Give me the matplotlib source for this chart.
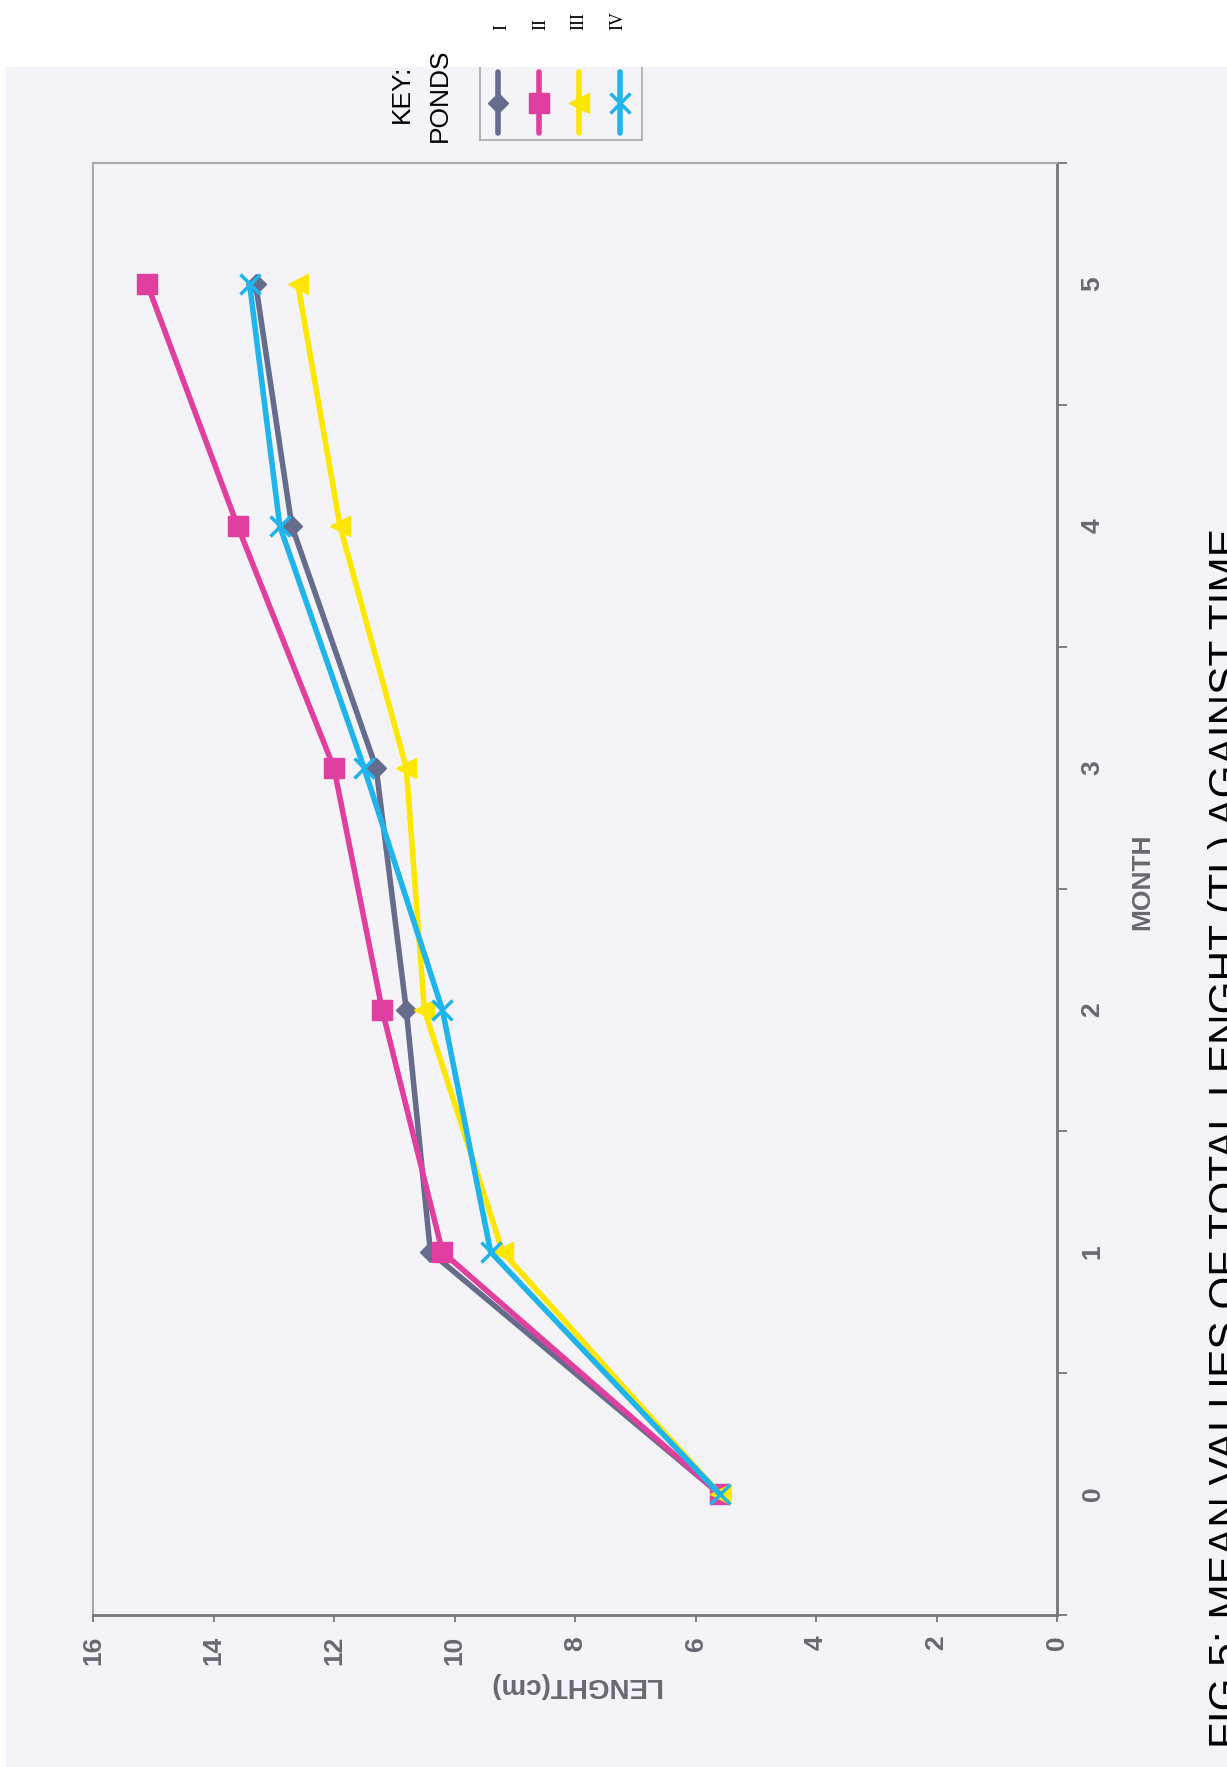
import matplotlib
matplotlib.use("Agg")  # non-interactive backend
import matplotlib.pyplot as plt
from matplotlib.patches import Rectangle
from matplotlib.ticker import FixedLocator, MultipleLocator

plt.rcParams.update({
    "font.family": ["Liberation Sans", "DejaVu Sans"],
    "font.size": 16,
})

# Mean total length (cm) per pond, months 0-5
months = [0, 1, 2, 3, 4, 5]
ponds = ["I", "II", "III", "IV"]
pond_i = [5.6, 10.4, 10.8, 11.3, 12.7, 13.3]
pond_ii = [5.6, 10.2, 11.2, 12.0, 13.6, 15.1]
pond_iii = [5.6, 9.2, 10.5, 10.8, 11.9, 12.6]
pond_iv = [5.6, 9.4, 10.2, 11.5, 12.9, 13.4]

series = [pond_i, pond_ii, pond_iii, pond_iv]
colors = ["#666c8b", "#e03fa0", "#fde600", "#1fb4ec"]
markers = ["D", "s", "<", "x"]
marker_sizes = [10, 14, 14, 15]

PAPER = "#f4f3f7"
AXIS_GREY = "#76747c"
FRAME_GREY = "#a9a8ae"
LABEL_GREY = "#6a6672"

W, H = 1227, 1767


def fx(px):
    return px / W


def fy(py):
    return 1 - py / H


def marker_kw(m, c, ms):
    return dict(marker=m, ms=ms, mfc=c, mec=c, mew=2.5 if m == "x" else 1)


fig = plt.figure(figsize=(W / 100, H / 100), dpi=100, facecolor=PAPER)

# Sheet is printed sideways: length runs right-to-left along the bottom,
# months run up the right-hand edge.
ax = fig.add_axes([fx(93), fy(1615), fx(1057) - fx(93), fy(163) - fy(1615)])
ax.set_facecolor(PAPER)
for vals, c, m, ms in zip(series, colors, markers, marker_sizes):
    ax.plot(vals, months, color=c, lw=4, solid_joinstyle="round",
            clip_on=False, **marker_kw(m, c, ms))

ax.set_xlim(16, 0)
ax.set_ylim(-0.5, 5.5)
ax.xaxis.set_major_locator(MultipleLocator(2))
ax.yaxis.set_major_locator(FixedLocator(months))
ax.yaxis.set_minor_locator(FixedLocator([m - 0.5 for m in months] + [months[-1] + 0.5]))
ax.yaxis.tick_right()

ax.tick_params(axis="x", which="major", direction="out", length=5, width=1.3,
               color=AXIS_GREY, pad=10, labelrotation=90, labelsize=19,
               labelcolor=LABEL_GREY)
ax.tick_params(axis="y", which="major", length=0, pad=17, labelrotation=90,
               labelsize=19, labelcolor=LABEL_GREY)
ax.tick_params(axis="y", which="minor", direction="out", length=7, width=1.3,
               color=AXIS_GREY)
plt.setp(ax.get_xticklabels() + ax.get_yticklabels(), fontweight="bold")
plt.setp(ax.get_yticklabels(), va="center", ha="left")

for side in ("top", "left"):
    ax.spines[side].set_color(FRAME_GREY)
    ax.spines[side].set_linewidth(1.5)
for side in ("bottom", "right"):
    ax.spines[side].set_color(AXIS_GREY)
    ax.spines[side].set_linewidth(2)

fig.text(fx(1142), fy(882), "MONTH", rotation=90, ha="center", va="center",
         fontsize=19, fontweight="bold", color=LABEL_GREY)
fig.text(fx(575), fy(1685), "LENGHT(cm)", rotation=180, ha="center", va="center",
         fontsize=20, fontweight="bold", color=LABEL_GREY)
fig.text(fx(1208), fy(1748), "FIG 5: MEAN VALUES OF TOTAL LENGHT (TL) AGAINST TIME",
         rotation=90, ha="left", va="bottom", fontsize=30.5, color="black")

# Key box
leg = fig.add_axes([fx(480), fy(140), fx(642) - fx(480), fy(40) - fy(140)])
leg.set_facecolor(PAPER)
leg.set_xlim(0, len(ponds))
leg.set_ylim(0, 1)
leg.set_xticks([])
leg.set_yticks([])
for sp in leg.spines.values():
    sp.set_color(FRAME_GREY)
    sp.set_linewidth(1.2)
for i, (c, m, ms) in enumerate(zip(colors, markers, marker_sizes)):
    leg.plot([i + 0.45, i + 0.45], [0.07, 0.68], color=c, lw=4,
             solid_capstyle="round")
    leg.plot([i + 0.45], [0.37], ls="none", **marker_kw(m, c, ms))

# Unprinted margins of the scanned sheet
fig.add_artist(Rectangle((0, fy(67)), 1, 1 - fy(67), transform=fig.transFigure,
                         facecolor="white", edgecolor="none", zorder=2))
fig.add_artist(Rectangle((0, 0), fx(5), 1, transform=fig.transFigure,
                         facecolor="white", edgecolor="none", zorder=2))

fig.text(fx(402), fy(123), "KEY:", rotation=90, ha="center", va="bottom",
         fontsize=19, color="black", zorder=3)
fig.text(fx(440), fy(142), "PONDS", rotation=90, ha="center", va="bottom",
         fontsize=19, color="black", zorder=3)
for i, name in enumerate(ponds):
    fig.text(fx(502 + 38.5 * i), fy(30), name, rotation=90, ha="center",
             va="bottom", family="Liberation Serif", fontsize=13,
             color="black", zorder=3)

fig.savefig("out.png", dpi=100, facecolor=PAPER)
plt.close(fig)
